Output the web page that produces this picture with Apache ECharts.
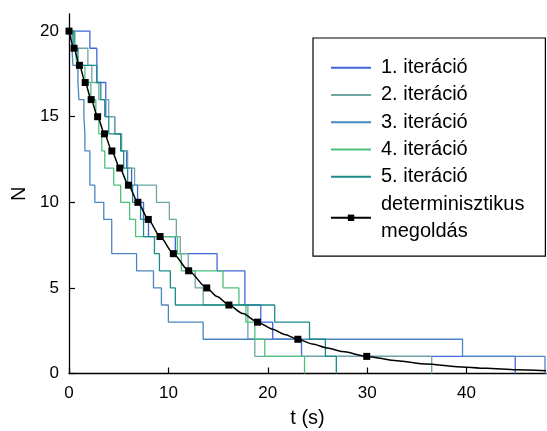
<!DOCTYPE html>
<html><head><meta charset="utf-8">
<script src="https://cdn.jsdelivr.net/npm/echarts@6/dist/echarts.min.js"></script>
<style>html,body{margin:0;padding:0;background:#fff}#c{width:547px;height:431px}</style>
</head><body><div id="c"></div>
<script>
// decay times (t at which N drops by one, from 20 down to 0)
const levels = [19,18,17,16,15,14,13,12,11,10,9,8,7,6,5,4,3,2,1,0];
const iter1 = [2.1, 2.8, 2.8, 3.7, 3.7, 4.6, 5.2, 5.8, 6.3, 6.9, 7.5, 8.0, 10.7, 14.9, 17.7, 17.7, 19.3, 20.5, 23.4, 44.9];
const iter2 = [0.4, 1.9, 2.3, 3.0, 4.0, 4.6, 5.3, 5.9, 6.6, 8.8, 10.1, 10.8, 11.2, 12.0, 12.7, 13.5, 18.0, 18.0, 18.7, 36.5];
const iter3 = [0.3, 0.4, 0.9, 1.0, 1.5, 1.6, 1.6, 2.1, 2.1, 2.6, 3.5, 4.3, 4.3, 6.8, 8.5, 9.3, 10.0, 13.5, 39.6, 47.9];
const iter4 = [0.6, 0.8, 1.6, 2.2, 2.7, 3.0, 3.3, 3.6, 4.5, 5.2, 6.1, 6.7, 10.9, 11.3, 15.5, 17.1, 17.8, 18.7, 19.7, 23.7];
const iter5 = [0.5, 0.9, 2.8, 3.2, 3.6, 4.0, 5.2, 5.5, 5.9, 6.4, 7.2, 7.5, 8.6, 9.1, 10.2, 10.7, 20.7, 24.2, 25.8, 26.9];
const startN = 20;
// deterministic solution: marked points, plus unmarked points
const markerT = [0, 0.51, 1.05, 1.63, 2.23, 2.88, 3.57, 4.31, 5.11, 5.98, 6.93, 7.98, 9.16, 10.5, 12.04, 13.86, 16.09, 18.97, 23.03, 29.96];
const markerN = [20, 19, 18, 17, 16, 15, 14, 13, 12, 11, 10, 9, 8, 7, 6, 5, 4, 3, 2, 1];
const curveT = [14.9, 17.5, 20.5, 21.7, 24.5, 26.0, 27.5, 33, 36, 39, 42, 45, 48];
const curveN = [4.5, 3.5, 2.58, 2.28, 1.72, 1.49, 1.28, 0.74, 0.55, 0.40, 0.30, 0.22, 0.165];
const xTicks = [0, 10, 20, 30, 40];
const yTicks = [0, 5, 10, 15, 20];
const names = ['1. iteráció', '2. iteráció', '3. iteráció', '4. iteráció', '5. iteráció'];
const detName = 'determinisztikus\nmegoldás';
const colors = ['#3f66dc', '#6ea6a2', '#4a86bf', '#4cc17c', '#1c8b8b'];

const FONT = '"Liberation Sans", Arial, sans-serif';
const iters = [iter1, iter2, iter3, iter4, iter5];
const stepSeries = iters.map((arr, i) => ({
  name: names[i], type: 'line', step: 'end', symbol: 'circle', showSymbol: false,
  data: [[0, startN]].concat(arr.map((t, k) => [t, levels[k]])),
  lineStyle: { color: colors[i], width: 1.3 }, itemStyle: { color: colors[i] },
  emphasis: { disabled: true },
  z: 2
}));
const detPts = markerT.map((t, k) => ({ value: [t, markerN[k]] }))
  .concat(curveT.map((t, k) => ({ value: [t, curveN[k]], symbol: 'none' })))
  .sort((a, b) => a.value[0] - b.value[0]);

const legendData = names.map((n, i) => ({
  name: n, itemStyle: { color: 'rgba(0,0,0,0)', borderWidth: 0 }
})).concat([{ name: detName }]);

const chart = echarts.init(document.getElementById('c'), null, { renderer: 'canvas' });
chart.setOption({
  animation: false,
  textStyle: { fontFamily: FONT },
  grid: { left: 69, right: 1, top: 14, bottom: 57.5, outerBoundsMode: 'none', containLabel: false },
  xAxis: {
    type: 'value', min: 0, max: 48, interval: 10,
    name: 't (s)', nameLocation: 'middle', nameGap: 35,
    nameTextStyle: { fontSize: 20, color: '#000', fontFamily: FONT },
    axisLine: { lineStyle: { color: '#000', width: 1.3 } },
    axisTick: { inside: true, length: 6, lineStyle: { color: '#000', width: 1.2 } },
    axisLabel: { fontSize: 17, color: '#000', margin: 11, showMaxLabel: false, fontFamily: FONT,
      formatter: v => xTicks.includes(v) ? String(v) : '' },
    splitLine: { show: false }
  },
  yAxis: {
    type: 'value', min: 0, max: 21, interval: 5,
    name: 'N', nameLocation: 'middle', nameGap: 36, nameRotate: 90,
    nameTextStyle: { fontSize: 20, color: '#000', fontFamily: FONT },
    axisLine: { show: true, lineStyle: { color: '#000', width: 1.3 } },
    axisTick: { show: true, inside: true, length: 6, lineStyle: { color: '#000', width: 1.2 } },
    axisLabel: { fontSize: 17, color: '#000', margin: 10, showMaxLabel: false, fontFamily: FONT,
      formatter: v => yTicks.includes(v) ? String(v) : '' },
    splitLine: { show: false }
  },
  legend: {
    orient: 'vertical', left: 313, top: 38,
    data: legendData,
    itemWidth: 40, itemHeight: 8, itemGap: 0,
    padding: [16, 21, 11, 17],
    backgroundColor: '#fff', borderColor: '#000', borderWidth: 1.2,
    textStyle: { fontSize: 20, color: '#000', lineHeight: 27.3, fontFamily: FONT, padding: [0, 0, 0, 5] }
  },
  series: stepSeries.concat([{
    name: detName, type: 'line', data: detPts,
    smooth: 0.25, smoothMonotone: 'x',
    symbol: 'rect', symbolSize: 7, showAllSymbol: true,
    lineStyle: { color: '#000', width: 1.5 }, itemStyle: { color: '#000' },
    emphasis: { disabled: true },
    z: 5
  }])
});
</script></body></html>
